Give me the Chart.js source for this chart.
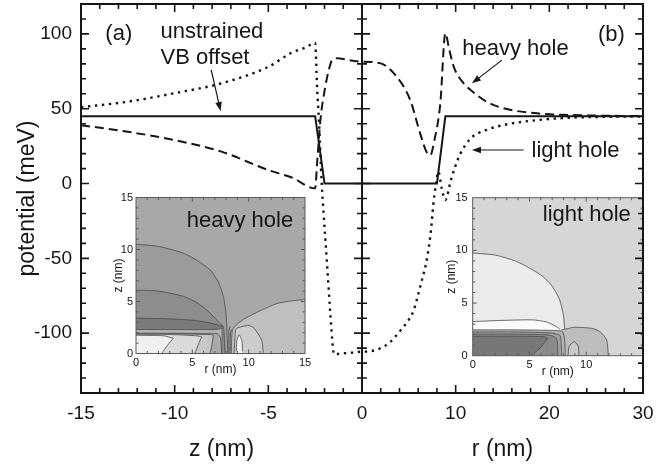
<!DOCTYPE html>
<html>
<head>
<meta charset="utf-8">
<script src="https://cdn.jsdelivr.net/npm/chart.js@4.4.1/dist/chart.umd.min.js"></script>
<style>
  html, body { margin: 0; padding: 0; background: #fff; }
  #wrap { position: relative; width: 671px; height: 466px; overflow: hidden; }
  #wrap canvas { position: absolute; }
  #main { left: 0; top: 0; z-index: 2; pointer-events: none; }
  #hh { left: 98px; top: 188px; z-index: 1; }
  #lh { left: 438px; top: 188px; z-index: 1; }
</style>
</head>
<body>
<div id="wrap">
  <canvas id="hh" width="214" height="205"></canvas>
  <canvas id="lh" width="212" height="207"></canvas>
  <canvas id="main" width="671" height="466"></canvas>
</div>
<script>
// ---- Band-edge profiles: along z (growth axis) and along r (radial) ----
// unstrained valence-band offset
const zSolid  = [-15, -2.5, -2.0, 0];
const vSolidZ = [45, 45, 0, 0];
const rSolid  = [0, 8.0, 8.9, 30];
const vSolidR = [0, 0, 45, 45];

// heavy hole (dashed)
const zHeavy  = [-15, -12.5, -10, -7.5, -5, -3.75, -2.5, -2.4, -2.22, -1.96, -1.75, -1.6, -1.33, -0.7, 0];
const vHeavyZ = [39, 34.6, 29, 21.3, 9, 4, -3.2, 13, 42.4, 64.7, 77, 82.5, 83.7, 82.5, 81.4];
const rHeavy  = [0, 2, 3.7, 5.15, 6.2, 6.9, 7.3, 7.7, 8.36, 8.9, 9.3, 9.8, 10.85, 11.6, 13.3, 15.1, 18.7, 22.2, 26, 30];
const vHeavyR = [81.4, 80.3, 71.4, 55.8, 33.7, 21, 19, 28, 53.6, 100.4, 90, 78, 67, 62.5, 54.7, 50.3, 46.9, 45.8, 45.3, 45.1];

// light hole (dotted)
const zLight  = [-15, -12.5, -10, -7.5, -5, -3.75, -3, -2.5, -2.4, -2.3, -2.15, -2.05, -1.87, -1.69, -1.55, -1.5, -1, -0.5, 0];
const vLightZ = [51, 54.7, 60.4, 67, 78, 87.5, 91, 94, 65, 42, 0, -20, -53, -87, -110, -114, -113.5, -113, -112.4];
const rLight  = [0, 1.7, 3, 4, 5, 5.5, 6.25, 7.0, 7.4, 7.6, 7.9, 8.15, 8.5, 8.9, 9.5, 10.2, 10.5, 11.6, 13.3, 15.1, 18.7, 22.2, 26, 30];
const vLightR = [-112.4, -110.8, -106, -99, -91, -85, -68, -48, -29, -15, 0, 8, -3, -11, 2.5, 15.7, 20, 30.2, 35.8, 39.1, 42.4, 44, 44.6, 44.8];

// tick labels
const zTicks = [-15, -10, -5, 0];
const rTicks = [0, 10, 20, 30];
const vTicks = [-100, -50, 0, 50, 100];

// ---- Inset contour maps: boundaries as [r, z] in nm, each filled down to z = 0,
//      painted back to front; "wedge" boundaries trim the slanted right side of a level ----
const hhBack   = [[0, 15], [15, 15]];
const hhOuter  = [[0, 10.5], [2, 10.3], [4.2, 9.65], [5.5, 8.9], [6.57, 8.05], [7.3, 6.9], [7.75, 5.5], [7.98, 4], [8.05, 2.6], [8.1, 1.7], [8.15, 0]];
const hhMid    = [[0, 6.1], [2, 6.0], [4.2, 5.5], [5.4, 4.9], [6.27, 4.2], [7.0, 3.4], [7.45, 2.9], [7.75, 2.6], [7.85, 1.2], [7.9, 0]];
const hhBand   = [[0, 3.4], [2.5, 3.35], [5, 3.2], [6.3, 3.0], [7.1, 2.8], [7.75, 2.6]];
const hhEdge   = [[0, 2.3], [4, 2.3], [7, 2.3], [7.6, 2.4]];
const hhLow    = [[0, 1.95], [3, 1.95], [6, 1.93], [7.2, 1.9], [7.5, 1.5], [7.6, 0]];
const hhLow2   = [[0, 1.9], [4, 1.88], [6.5, 1.82], [6.86, 1.8]];
const hhWedge2 = [[6.57, 0], [6.75, 0.9], [6.86, 1.8]];
const hhLow3   = [[0, 1.85], [3, 1.83], [5.4, 1.7], [5.83, 1.6]];
const hhWedge3 = [[5.24, 0], [5.5, 0.8], [5.83, 1.6]];
const hhLow4   = [[0, 1.75], [2.5, 1.7], [3.3, 1.45]];
const hhWedge4 = [[2.28, 0], [2.8, 0.8], [3.3, 1.45]];
const hhRight  = [[8.45, 0], [8.5, 1.5], [8.6, 2.4], [9.43, 3.2], [11, 4.1], [12.5, 4.8], [13.4, 5.0], [15, 5.2]];
const hhRight2 = [[8.7, 0], [8.8, 1.8], [8.9, 2.4], [10.0, 2.7], [10.5, 2.4], [11.15, 1.3], [11.3, 0]];
const hhBlob   = [[8.9, 0.2], [8.95, 1.2], [9.15, 1.8], [9.4, 1.2], [9.45, 0.2]];
const hhSeam1  = [[8.25, 0], [8.25, 2.2], [8.35, 2.6]];
const hhSeam2  = [[8.35, 0], [8.38, 1.9], [8.45, 2.3]];

const lhBack   = [[0, 15], [15, 15]];
const lhOuter  = [[0, 9.75], [2, 9.55], [3.86, 8.95], [5.2, 8.2], [6.2, 7.5], [7.0, 6.6], [7.66, 5.3], [8.0, 3.8], [8.1, 2.6], [8.2, 2.4]];
const lhRight  = [[7.8, 2.45], [8.3, 2.55], [8.9, 2.7], [10.5, 2.6], [11.2, 2.3], [11.8, 1.5], [11.95, 0]];
const lhWhite  = [[0, 3.24], [2.5, 3.35], [5.3, 3.4], [6.5, 3.2], [7.4, 2.75], [7.7, 2.5]];
const lhBand1  = [[0, 2.45], [4, 2.45], [7, 2.4], [7.9, 2.3], [8.1, 1.5], [8.15, 0]];
const lhBand2  = [[0, 2.25], [4, 2.25], [7, 2.15], [7.7, 1.9], [7.85, 0]];
const lhBand3  = [[0, 2.05], [4, 2.05], [6.8, 1.95], [7.4, 1.6], [7.5, 0]];
const lhCore   = [[0, 1.85], [4, 1.85], [6.3, 1.8], [6.6, 1.65]];
const lhWedge  = [[5.15, 0], [6.0, 0.8], [6.6, 1.65]];
const lhBlob   = [[8.4, 0], [8.5, 0.9], [8.95, 1.33], [9.3, 0.9], [9.35, 0]];

// ---- shared styling ----
const FONT = "'Liberation Sans', Arial, Helvetica, sans-serif";
const INK = '#161616';
const CONTOUR = '#4a4a4a';
Chart.defaults.font.family = FONT;
Chart.defaults.color = INK;

// The z half of the frame is drawn at twice the scale of the r half.
const Z_STRETCH = 2;
const pts = (xs, ys, k) => xs.map((v, i) => ({ x: v * k, y: ys[i] }));
const joined = (zs, vz, rs, vr) => pts(zs, vz, Z_STRETCH).concat(pts(rs, vr, 1));

const xTickValues = zTicks.map(z => z * Z_STRETCH).concat(rTicks.filter(r => r > 0));

// keep the plot box fixed: no extra room for edge labels
const noEdgePad = s => { s.paddingTop = 0; s.paddingBottom = 0; s.paddingLeft = 0; s.paddingRight = 0; };

// text notes and arrows, in the frame's combined x units and meV
const notes = [
  { text: '(a)', x: -27.4, y: 95.7 },
  { text: 'unstrained', x: -21.5, y: 97.3 },
  { text: 'VB offset', x: -21.5, y: 79.9 },
  { text: '(b)', x: 25.2, y: 95.6 },
  { text: 'heavy hole', x: 10.7, y: 85.6 },
  { text: 'light hole', x: 18.1, y: 17.9 }
];
const arrows = [
  { from: [-16.1, 75.9], to: [-15.1, 48.5] },
  { from: [14.94, 82.5], to: [11.74, 67] },
  { from: [17.25, 22.4], to: [11.74, 22.4] }
];

function drawArrow(ctx, x0, y0, x1, y1) {
  const ang = Math.atan2(y1 - y0, x1 - x0);
  const L = 9, W = 3.3;
  ctx.beginPath();
  ctx.moveTo(x0, y0);
  ctx.lineTo(x1 - L * 0.8 * Math.cos(ang), y1 - L * 0.8 * Math.sin(ang));
  ctx.stroke();
  ctx.beginPath();
  ctx.moveTo(x1, y1);
  ctx.lineTo(x1 - L * Math.cos(ang) + W * Math.sin(ang), y1 - L * Math.sin(ang) - W * Math.cos(ang));
  ctx.lineTo(x1 - L * Math.cos(ang) - W * Math.sin(ang), y1 - L * Math.sin(ang) + W * Math.cos(ang));
  ctx.closePath();
  ctx.fill();
}

const mainFrame = {
  id: 'mainFrame',
  afterDraw(chart) {
    const { ctx, chartArea: a, scales: { x, y } } = chart;
    const mid = x.getPixelForValue(0);
    ctx.save();
    ctx.strokeStyle = INK;
    ctx.fillStyle = INK;
    ctx.lineWidth = 2;
    ctx.strokeRect(a.left, a.top, a.right - a.left, a.bottom - a.top);
    ctx.beginPath();
    ctx.moveTo(mid, a.top); ctx.lineTo(mid, a.bottom);
    ctx.stroke();

    ctx.lineWidth = 1.6;
    ctx.beginPath();
    // potential ticks on left, right and the centre divider
    for (let v = -130; v <= 110; v += 10) {
      const py = y.getPixelForValue(v);
      const len = v % 50 === 0 ? 8 : 5;
      ctx.moveTo(a.left, py); ctx.lineTo(a.left + len, py);
      ctx.moveTo(a.right, py); ctx.lineTo(a.right - len, py);
      ctx.moveTo(mid - len, py); ctx.lineTo(mid + len, py);
    }
    // z ticks every 1 nm, r ticks every 2 nm
    const xt = [];
    for (let z = -14; z <= -1; z++) xt.push([z * Z_STRETCH, z % 5 === 0]);
    for (let r = 2; r <= 28; r += 2) xt.push([r, r % 10 === 0]);
    xt.forEach(([v, major]) => {
      const px = x.getPixelForValue(v);
      const len = major ? 8 : 5;
      ctx.moveTo(px, a.bottom); ctx.lineTo(px, a.bottom - len);
      ctx.moveTo(px, a.top); ctx.lineTo(px, a.top + len);
    });
    ctx.stroke();

    // axis titles for the two halves
    ctx.font = '23px ' + FONT;
    ctx.textAlign = 'center';
    ctx.textBaseline = 'alphabetic';
    ctx.fillText('z (nm)', (a.left + mid) / 2, 456);
    ctx.fillText('r (nm)', (mid + a.right) / 2, 456);

    // notes
    ctx.font = '22px ' + FONT;
    ctx.textAlign = 'left';
    notes.forEach(n => ctx.fillText(n.text, x.getPixelForValue(n.x), y.getPixelForValue(n.y)));

    ctx.lineWidth = 1.2;
    arrows.forEach(ar => drawArrow(ctx,
      x.getPixelForValue(ar.from[0]), y.getPixelForValue(ar.from[1]),
      x.getPixelForValue(ar.to[0]), y.getPixelForValue(ar.to[1])));
    ctx.restore();
  }
};

new Chart(document.getElementById('main'), {
  type: 'line',
  data: {
    datasets: [
      { label: 'unstrained VB offset', data: joined(zSolid, vSolidZ, rSolid, vSolidR),
        borderColor: INK, borderWidth: 2, tension: 0, pointRadius: 0, fill: false },
      { label: 'heavy hole', data: joined(zHeavy, vHeavyZ, rHeavy, vHeavyR),
        borderColor: INK, borderWidth: 2, borderDash: [9, 5], cubicInterpolationMode: 'monotone', pointRadius: 0, fill: false },
      { label: 'light hole', data: joined(zLight, vLightZ, rLight, vLightR),
        borderColor: INK, borderWidth: 2.4, borderDash: [2.4, 4.6], cubicInterpolationMode: 'monotone', pointRadius: 0, fill: false }
    ]
  },
  options: {
    responsive: false, animation: false, devicePixelRatio: 1,
    layout: { padding: { top: 4, right: 28, left: 0, bottom: 0 } },
    plugins: { legend: { display: false }, tooltip: { enabled: false } },
    scales: {
      x: {
        type: 'linear', min: -30, max: 30,
        afterBuildTicks: s => { s.ticks = xTickValues.map(v => ({ value: v })); },
        afterFit: s => { s.height = 73; noEdgePad(s); },
        ticks: { callback: v => (v < 0 ? v / Z_STRETCH : v), font: { size: 19 }, color: INK, padding: 9, maxRotation: 0, autoSkip: false },
        grid: { display: false, drawTicks: false },
        border: { display: false }
      },
      y: {
        type: 'linear', min: -140, max: 120,
        afterBuildTicks: s => { s.ticks = vTicks.map(v => ({ value: v })); },
        afterFit: s => { s.width = 81; noEdgePad(s); },
        ticks: { font: { size: 19 }, color: INK, padding: 9 },
        grid: { display: false, drawTicks: false },
        border: { display: false },
        title: { display: true, text: 'potential (meV)', font: { size: 23 }, color: INK, padding: { top: 14, bottom: 0 } }
      }
    }
  },
  plugins: [mainFrame]
});

// ---- inset contour maps ----
function insetChart(id, layers, seams, caption, xLabels, geom) {
  const datasets = [];
  layers.forEach(([shape, color], i) => datasets.push({
    data: shape.map(([r, z]) => ({ x: r, y: z })),
    fill: 'origin', backgroundColor: color,
    borderColor: CONTOUR, borderWidth: i === 0 ? 0 : 0.8,
    pointRadius: 0, tension: 0.2
  }));
  seams.forEach(shape => datasets.push({
    data: shape.map(([r, z]) => ({ x: r, y: z })),
    fill: false, borderColor: CONTOUR, borderWidth: 0.8, pointRadius: 0, tension: 0.2
  }));
  datasets.forEach((d, i) => { d.order = datasets.length - i; });

  const insetFrame = {
    id: 'insetFrame',
    afterDraw(chart) {
      const { ctx, chartArea: a, scales: { x, y } } = chart;
      ctx.save();
      ctx.strokeStyle = '#5a5a5a';
      ctx.lineWidth = 1;
      ctx.strokeRect(a.left, a.top, a.right - a.left, a.bottom - a.top);
      ctx.beginPath();
      for (let v = 1; v < 15; v++) {
        const len = v % 5 === 0 ? 4 : 2.5;
        const px = x.getPixelForValue(v), py = y.getPixelForValue(v);
        ctx.moveTo(px, a.bottom); ctx.lineTo(px, a.bottom - len);
        ctx.moveTo(px, a.top); ctx.lineTo(px, a.top + len);
        ctx.moveTo(a.left, py); ctx.lineTo(a.left + len, py);
        ctx.moveTo(a.right, py); ctx.lineTo(a.right - len, py);
      }
      ctx.stroke();
      ctx.fillStyle = INK;
      ctx.font = '22px ' + FONT;
      ctx.textAlign = 'left';
      ctx.textBaseline = 'alphabetic';
      ctx.fillText(caption.text, x.getPixelForValue(caption.r), y.getPixelForValue(caption.z));
      ctx.restore();
    }
  };

  return new Chart(document.getElementById(id), {
    type: 'line',
    data: { datasets },
    options: {
      responsive: false, animation: false, devicePixelRatio: 1,
      layout: { padding: { top: geom.top, right: geom.right, left: 0, bottom: 0 } },
      plugins: { legend: { display: false }, tooltip: { enabled: false } },
      scales: {
        x: {
          type: 'linear', min: 0, max: 15,
          afterBuildTicks: s => { s.ticks = xLabels.map(v => ({ value: v })); },
          afterFit: s => { s.height = geom.xh; noEdgePad(s); },
          ticks: { font: { size: 11 }, color: INK, padding: 3, maxRotation: 0, autoSkip: false },
          grid: { display: false, drawTicks: false },
          border: { display: false },
          title: { display: true, text: 'r (nm)', font: { size: 12 }, color: INK, padding: { top: 0, bottom: geom.xtp } }
        },
        y: {
          type: 'linear', min: 0, max: 15,
          afterBuildTicks: s => { s.ticks = [0, 5, 10, 15].map(v => ({ value: v })); },
          afterFit: s => { s.width = geom.yw; noEdgePad(s); },
          ticks: { font: { size: 11 }, color: INK, padding: geom.ytp },
          grid: { display: false, drawTicks: false },
          border: { display: false },
          title: { display: true, text: 'z (nm)', font: { size: 12 }, color: INK, padding: { top: geom.ytt, bottom: 0 } }
        }
      }
    },
    plugins: [insetFrame]
  });
}

insetChart('hh', [
  [hhBack, '#a8a8a8'],
  [hhOuter, '#9b9b9b'],
  [hhMid, '#8d8d8d'],
  [hhBand, '#7a7a7a'],
  [hhEdge, '#b4b4b4'],
  [hhLow, '#a9a9a9'],
  [hhLow2, '#c6c6c6'],
  [hhWedge2, '#a9a9a9'],
  [hhLow3, '#dadada'],
  [hhWedge3, '#c6c6c6'],
  [hhLow4, '#f0f0f0'],
  [hhWedge4, '#dadada'],
  [hhRight, '#bfbfbf'],
  [hhRight2, '#cccccc'],
  [hhBlob, '#f2f2f2']
], [hhSeam1, hhSeam2], { text: 'heavy hole', r: 4.5, z: 12.2 }, [0, 5, 10, 15],
  { top: 9.5, right: 7, xh: 39.5, yw: 38, xtp: 16, ytp: 3, ytt: 13 });

insetChart('lh', [
  [lhBack, '#d6d6d6'],
  [lhOuter, '#ebebeb'],
  [lhRight, '#bdbdbd'],
  [lhWhite, '#fbfbfb'],
  [lhBand1, '#b3b3b3'],
  [lhBand2, '#a0a0a0'],
  [lhBand3, '#8b8b8b'],
  [lhCore, '#777777'],
  [lhWedge, '#8b8b8b'],
  [lhBlob, '#c9c9c9']
], [], { text: 'light hole', r: 6.17, z: 12.76 }, [0, 5, 10],
  { top: 9.7, right: 7, xh: 39.3, yw: 34.7, xtp: 16, ytp: 5, ytt: 6 });
</script>
</body>
</html>
